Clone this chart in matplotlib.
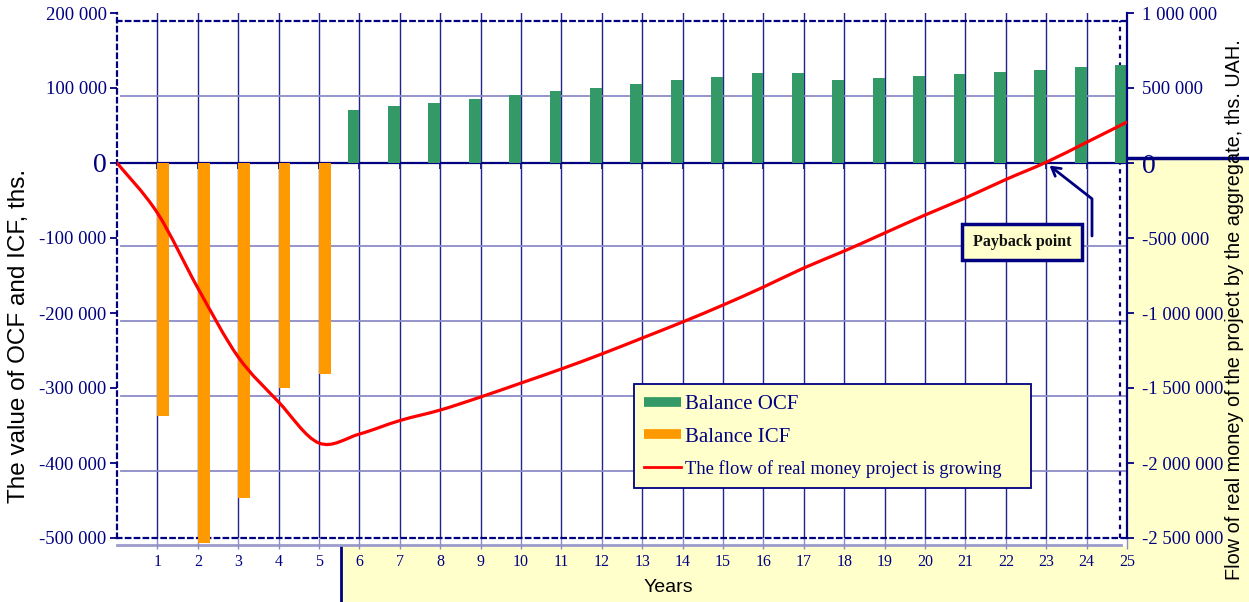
import matplotlib
matplotlib.use('Agg')
import matplotlib.pyplot as plt
from matplotlib.path import Path
from matplotlib.patches import PathPatch, Rectangle
from matplotlib.lines import Line2D
from matplotlib.ticker import FuncFormatter, FixedLocator
from matplotlib.transforms import ScaledTranslation

plt.rcParams['font.family'] = ['Liberation Serif', 'DejaVu Serif']
plt.rcParams['axes.unicode_minus'] = False

# Balance of investment cash flow (years 1-5) and operating cash flow (years 6-25)
icf_years = [1, 2, 3, 4, 5]
icf_values = [-337000, -507000, -447000, -300000, -281000]
ocf_years = list(range(6, 26))
ocf_values = [71000, 76000, 80000, 85000, 91000, 96000, 100000, 105000, 111000, 115000,
              120000, 120000, 111000, 113000, 116000, 119000, 121000, 124000, 128000, 131000]

# Cumulative real money flow of the project
flow_years = list(range(0, 26))
flow_values = [0, -333000, -833000, -1293000, -1593000, -1867000, -1807000, -1717000,
               -1647000, -1560000, -1467000, -1373000, -1273000, -1167000, -1060000,
               -947000, -827000, -700000, -587000, -467000, -347000, -233000, -110000,
               5000, 138000, 273000]

year_ticks = list(range(1, 26))
left_ticks = list(range(-500000, 200001, 100000))
right_ticks = list(range(-2500000, 1000001, 500000))

NAVY = '#000080'
GRID_DARK = '#23238c'
GRID_LIGHT = '#8c8cc8'
GREEN = '#339966'
ORANGE = '#ff9900'
YELLOW = '#ffffcc'

W, H = 1249, 602


def space_thousands(v, pos=None):
    return f"{int(round(v)):,}".replace(',', ' ')


def smooth_path(xs, ys):
    # Bezier curve through the points (same kind of smoothing as office charts)
    n = len(xs)
    verts = [(xs[0], ys[0])]
    codes = [Path.MOVETO]
    for i in range(n - 1):
        x0, y0 = xs[max(i - 1, 0)], ys[max(i - 1, 0)]
        x1, y1 = xs[i], ys[i]
        x2, y2 = xs[i + 1], ys[i + 1]
        x3, y3 = xs[min(i + 2, n - 1)], ys[min(i + 2, n - 1)]
        verts += [(x1 + (x2 - x0) / 6, y1 + (y2 - y0) / 6),
                  (x2 - (x3 - x1) / 6, y2 - (y3 - y1) / 6),
                  (x2, y2)]
        codes += [Path.CURVE4] * 3
    return Path(verts, codes)


fig = plt.figure(figsize=(W / 100, H / 100), dpi=100)

# yellow strips behind the axes
fig.add_artist(Rectangle((341 / W, 0), 1 - 341 / W, 56 / H, transform=fig.transFigure,
                         facecolor=YELLOW, edgecolor='none', zorder=-2))
fig.add_artist(Rectangle((1128 / W, 0), 1 - 1128 / W, 444 / H, transform=fig.transFigure,
                         facecolor=YELLOW, edgecolor='none', zorder=-2))
fig.add_artist(Line2D([341 / W, 341 / W], [0, 56 / H], transform=fig.transFigure,
                      color=NAVY, lw=2, zorder=-1))
fig.add_artist(Line2D([1128 / W, 1], [444 / H, 444 / H], transform=fig.transFigure,
                      color=NAVY, lw=2.5, zorder=-1))
fig.add_artist(Line2D([117 / W, 1121 / W], [57 / H, 57 / H], transform=fig.transFigure,
                      color='#9c9ccc', lw=2, zorder=-1))

ax = fig.add_axes([117 / W, 64 / H, 1010 / W, 525 / H])
ax.set_xlim(0, 25)
ax.set_ylim(-500000, 200000)

# grid (the grid layer sits a few pixels right/below the ticks)
ax.set_xticks(year_ticks)
ax.yaxis.set_major_locator(FixedLocator(left_ticks))
ax.grid(True, axis='x', color=GRID_DARK, lw=1)
ax.grid(True, axis='y', color=GRID_LIGHT, lw=1.3)
grid_shift = ScaledTranslation(4 / 100, -8 / 100, fig.dpi_scale_trans)
for i, gl in enumerate(ax.get_xgridlines()):
    if i < 4:
        gl.set_color(GRID_LIGHT)
    gl.set_transform(gl.get_transform() + grid_shift)
ygl = ax.get_ygridlines()
for gl in ygl:
    gl.set_transform(gl.get_transform() + grid_shift)
for i in (0, left_ticks.index(0), len(ygl) - 1):
    ygl[i].set_visible(False)
ax.set_axisbelow(True)

ax.bar(ocf_years, ocf_values, width=-0.29, align='edge', color=GREEN, zorder=3,
       label='Balance OCF')
ax.bar(icf_years, icf_values, width=0.29, align='edge', color=ORANGE, zorder=3,
       clip_on=False, label='Balance ICF')
ax.axhline(0, color=NAVY, lw=1.6, zorder=2.5)

# spines: dashed plot-area frame
for side in ['left', 'top', 'bottom']:
    ax.spines[side].set_color(NAVY)
    ax.spines[side].set_linewidth(1.6)
    ax.spines[side].set_linestyle((0, (2, 2)))
ax.spines['top'].set_position(('axes', 0.985))
ax.spines['right'].set_visible(False)
ax.add_line(Line2D([0.993, 0.993], [0, 0.985], transform=ax.transAxes, color=NAVY,
                   lw=1.6, linestyle=(0, (2, 2)), zorder=2.6))

ax.yaxis.set_major_formatter(FuncFormatter(space_thousands))
ax.tick_params(axis='y', direction='out', length=5, width=1.3, color=NAVY,
               labelcolor=NAVY, labelsize=13.5, pad=2.5)
ax.tick_params(axis='x', direction='out', length=8, width=1, color=GRID_LIGHT,
               labelcolor=NAVY, labelsize=11.5, pad=3.5)
ax.yaxis.get_major_ticks()[left_ticks.index(0)].label1.set_fontsize(20)

# small year ticks hanging from the zero line
zero_loc = (0 - ax.get_ylim()[0]) / (ax.get_ylim()[1] - ax.get_ylim()[0])
secax = ax.secondary_xaxis(zero_loc)
secax.set_xticks(year_ticks)
secax.set_xticklabels([])
secax.tick_params(direction='in', length=4, width=1.2, color=NAVY)
for sp in secax.spines.values():
    sp.set_visible(False)

# right axis: real money flow
ax2 = ax.twinx()
ax2.set_ylim(-2500000, 1000000)
ax2.yaxis.set_major_locator(FixedLocator(right_ticks))
ax2.yaxis.set_major_formatter(FuncFormatter(space_thousands))
ax2.tick_params(axis='y', direction='out', length=5, width=1.3, color=NAVY,
                labelcolor=NAVY, labelsize=13.5, pad=6)
ax2.yaxis.get_major_ticks()[right_ticks.index(0)].label2.set_fontsize(20)
for side in ['left', 'top', 'bottom']:
    ax2.spines[side].set_visible(False)
ax2.spines['right'].set_color(NAVY)
ax2.spines['right'].set_linewidth(1.6)

ax2.add_patch(PathPatch(smooth_path(flow_years, flow_values), fill=False,
                        edgecolor='#ff0000', lw=2.3, zorder=5, capstyle='round'))

# axis titles
fig.text(668 / W, 1 - 588 / H, 'Years', family='Liberation Sans', fontsize=14,
         ha='center', va='center', color='black')
fig.text(19 / W, 1 - 336 / H, 'The value of OCF and ICF, ths.', family='Liberation Sans',
         fontsize=17.5, rotation=90, ha='center', va='center', color='black')
fig.text(1234 / W, 1 - 310 / H, 'Flow of real money of the project by the aggregate, ths. UAH.',
         family='Liberation Sans', fontsize=14.3, rotation=90, ha='center', va='center',
         color='black')

# legend
handles = [Line2D([], [], color=GREEN, lw=7, solid_capstyle='butt'),
           Line2D([], [], color=ORANGE, lw=7, solid_capstyle='butt'),
           Line2D([], [], color='#ff0000', lw=2)]
labels = ['Balance OCF', 'Balance ICF', 'The flow of real money project is growing']
leg = fig.legend(handles, labels, loc='upper left',
                 bbox_to_anchor=(634 / W, 1 - 492 / H, 397 / W, 108 / H), mode='expand',
                 borderaxespad=0, prop={'family': 'Liberation Serif', 'size': 15},
                 handlelength=1.75, handletextpad=0.2, labelspacing=0.62, borderpad=0.5,
                 fancybox=False, framealpha=1, facecolor=YELLOW, edgecolor=NAVY)
leg.get_frame().set_linewidth(1.3)
for t in leg.get_texts():
    t.set_color(NAVY)
leg.get_texts()[2].set_fontsize(13.4)

# payback point
ax2.annotate('', xy=(23, 0), xytext=(1092 / W, 1 - 236 / H), textcoords='figure fraction',
             arrowprops=dict(arrowstyle='->,head_length=0.6,head_width=0.35', color=NAVY,
                             lw=2, shrinkA=0, shrinkB=3,
                             connectionstyle='angle,angleA=90,angleB=-38,rad=0'),
             zorder=6)
fig.text(1022 / W, 1 - 242 / H, 'Payback point', fontsize=11.5, fontweight='bold',
         ha='center', va='center', color='#111111',
         bbox=dict(boxstyle='square,pad=0.65', facecolor=YELLOW, edgecolor=NAVY, lw=2.5))

fig.savefig('out.png', dpi=100, facecolor='white')
